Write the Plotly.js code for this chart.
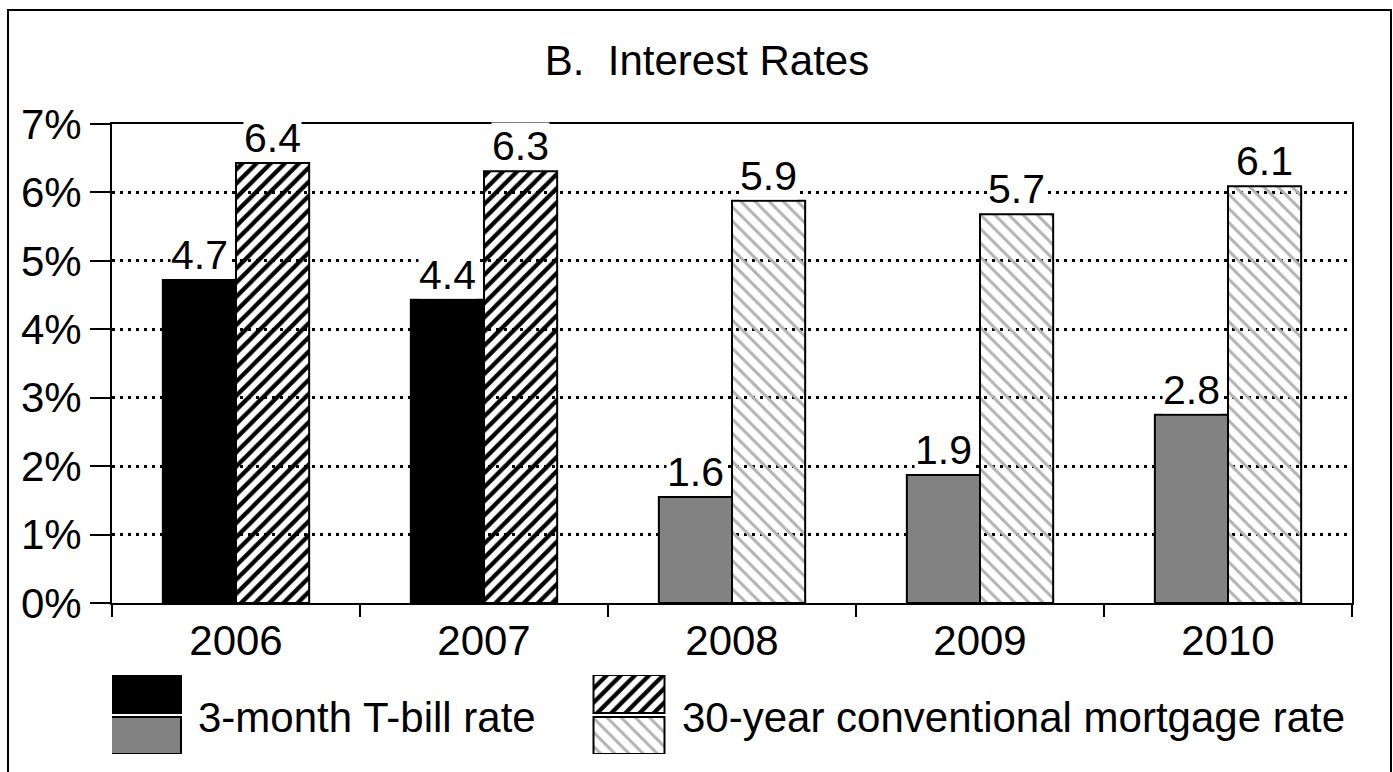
<!DOCTYPE html>
<html>
<head>
<meta charset="utf-8">
<script src="https://cdn.plot.ly/plotly-3.0.1.min.js"></script>
<style>
  html, body { margin: 0; padding: 0; background: #fff; }
  #chart { width: 1393px; height: 772px; }
</style>
</head>
<body>
<div id="chart"></div>
<script>
// ---- data ----
const years = ['2006', '2007', '2008', '2009', '2010'];
const tbillRates = [4.72, 4.43, 1.55, 1.87, 2.75];
const tbillLabels = ['4.7', '4.4', '1.6', '1.9', '2.8'];
const mortgageRates = [6.43, 6.31, 5.88, 5.68, 6.09];
const mortgageLabels = ['6.4', '6.3', '5.9', '5.7', '6.1'];
const yTickVals = [0, 1, 2, 3, 4, 5, 6, 7];
const yTickText = ['0%', '1%', '2%', '3%', '4%', '5%', '6%', '7%'];
const tbillName = '3-month T-bill rate';
const mortgageName = '30-year conventional mortgage rate';
const chartTitle = 'B.\u00A0 Interest Rates';

// ---- styles ----
const FONT = 'Liberation Sans, Arial, sans-serif';
const isForecast = years.map(y => Number(y) >= 2008);
const tbillColors = isForecast.map(f => f ? '#828282' : '#000000');
const mortBg = isForecast.map(f => f ? '#b3b3b3' : '#000000');
const mortFg = isForecast.map(f => '#ffffff');
const mortShape = isForecast.map(f => f ? '\\' : '/');
const mortSolidity = isForecast.map(f => f ? 0.3 : 0.42);

const W = 1393, H = 772;
const margin = {l: 112, r: 41, t: 124, b: 18, pad: 0};
const plotW = W - margin.l - margin.r;       // 1240
const plotH = H - margin.t - margin.b;       // 630
const bargap = 0.41;
const barPx = plotW / years.length * (1 - bargap) / 2;

const traces = [
  {
    type: 'bar', name: tbillName, x: years, y: tbillRates,
    marker: {color: tbillColors, line: {color: '#000', width: 2}},
    hoverinfo: 'none', showlegend: false
  },
  {
    type: 'bar', name: mortgageName, x: years, y: mortgageRates,
    marker: {
      color: mortBg,
      line: {color: '#000', width: 2},
      pattern: {shape: mortShape, bgcolor: mortBg, fgcolor: mortFg,
                size: 10, solidity: mortSolidity, fillmode: 'replace'}
    },
    hoverinfo: 'none', showlegend: false
  },
  // legend swatches (drawn on a hidden helper axis in pixel-like units)
  {
    type: 'bar', xaxis: 'x2', yaxis: 'y2',
    x: [145.5, 145.5], y: [38, 37], base: [41, 0], width: [71, 71], offset: -35.5,
    marker: {color: ['#000000', '#828282'], line: {color: '#000', width: 2}},
    hoverinfo: 'none', showlegend: false
  },
  {
    type: 'bar', xaxis: 'x2', yaxis: 'y2',
    x: [629, 629], y: [38, 37], base: [41, 0], width: [71, 71], offset: -35.5,
    marker: {
      color: ['#000000', '#b3b3b3'],
      line: {color: '#000', width: 2},
      pattern: {shape: ['/', '\\'], bgcolor: ['#000000', '#b3b3b3'], fgcolor: ['#ffffff', '#ffffff'],
                size: 10, solidity: [0.42, 0.3], fillmode: 'replace'}
    },
    hoverinfo: 'none', showlegend: false
  }
];

const annotations = [];
years.forEach((yr, i) => {
  annotations.push({
    x: i, y: tbillRates[i], xref: 'x', yref: 'y', text: tbillLabels[i],
    showarrow: false, xanchor: 'center', yanchor: 'bottom', xshift: -barPx / 2, yshift: 1,
    bgcolor: '#ffffff', borderpad: 0, font: {family: FONT, size: 41, color: '#000'}
  });
  annotations.push({
    x: i, y: mortgageRates[i], xref: 'x', yref: 'y', text: mortgageLabels[i],
    showarrow: false, xanchor: 'center', yanchor: 'bottom', xshift: barPx / 2, yshift: 1,
    bgcolor: '#ffffff', borderpad: 0, font: {family: FONT, size: 41, color: '#000'}
  });
});
annotations.push({
  xref: 'paper', yref: 'paper', x: (196 - margin.l) / plotW, y: (H - margin.b - 717) / plotH,
  text: tbillName, showarrow: false, xanchor: 'left', yanchor: 'middle',
  font: {family: FONT, size: 42, color: '#000'}
});
annotations.push({
  xref: 'paper', yref: 'paper', x: (680 - margin.l) / plotW, y: (H - margin.b - 717) / plotH,
  text: mortgageName, showarrow: false, xanchor: 'left', yanchor: 'middle',
  font: {family: FONT, size: 42, color: '#000'}
});

const mainBottom = (H - margin.b - 603) / plotH;
const legTop = (H - margin.b - 675) / plotH;

const layout = {
  width: W, height: H, margin: margin,
  paper_bgcolor: '#fff', plot_bgcolor: '#fff',
  font: {family: FONT, size: 42, color: '#000'},
  title: {text: chartTitle, x: 707 / W, xanchor: 'center', xref: 'container',
          y: 1 - 60 / H, yanchor: 'middle', yref: 'container',
          font: {family: FONT, size: 42, color: '#000'}},
  barmode: 'group', bargap: bargap, bargroupgap: 0,
  showlegend: false,
  xaxis: {
    type: 'category', categoryorder: 'array', categoryarray: years,
    range: [-0.5, years.length - 0.5], autorange: false,
    anchor: 'y', domain: [0, 1],
    tickson: 'boundaries', ticks: 'outside', ticklen: 12, tickwidth: 2, tickcolor: '#000',
    tickangle: 0,
    showline: true, mirror: true, linecolor: '#000', linewidth: 2,
    showgrid: false, zeroline: false,
    tickfont: {family: FONT, size: 42, color: '#000'}, fixedrange: true
  },
  yaxis: {
    domain: [mainBottom, 1], anchor: 'x', range: [0, 7], autorange: false,
    tickmode: 'array', tickvals: yTickVals, ticktext: yTickText,
    ticks: 'outside', ticklen: 20, tickwidth: 2, tickcolor: '#000',
    showline: true, mirror: true, linecolor: '#000', linewidth: 2,
    showgrid: true, gridcolor: '#000', gridwidth: 3, griddash: '3px,5px',
    zeroline: false,
    tickfont: {family: FONT, size: 42, color: '#000'}, fixedrange: true
  },
  xaxis2: {domain: [0, 1], anchor: 'y2', range: [margin.l, W - margin.r], autorange: false, visible: false, fixedrange: true},
  yaxis2: {domain: [0, legTop], anchor: 'x2', range: [0, 79], autorange: false, visible: false, fixedrange: true},
  annotations: annotations,
  shapes: [{
    type: 'rect', xref: 'paper', yref: 'paper',
    x0: (8 - margin.l) / plotW, x1: (1391 - margin.l) / plotW,
    y0: -0.2, y1: (H - margin.b - 10) / plotH,
    line: {color: '#000', width: 2}, fillcolor: 'rgba(0,0,0,0)', layer: 'above'
  }]
};

Plotly.newPlot('chart', traces, layout, {displayModeBar: false, staticPlot: true});
</script>
</body>
</html>
